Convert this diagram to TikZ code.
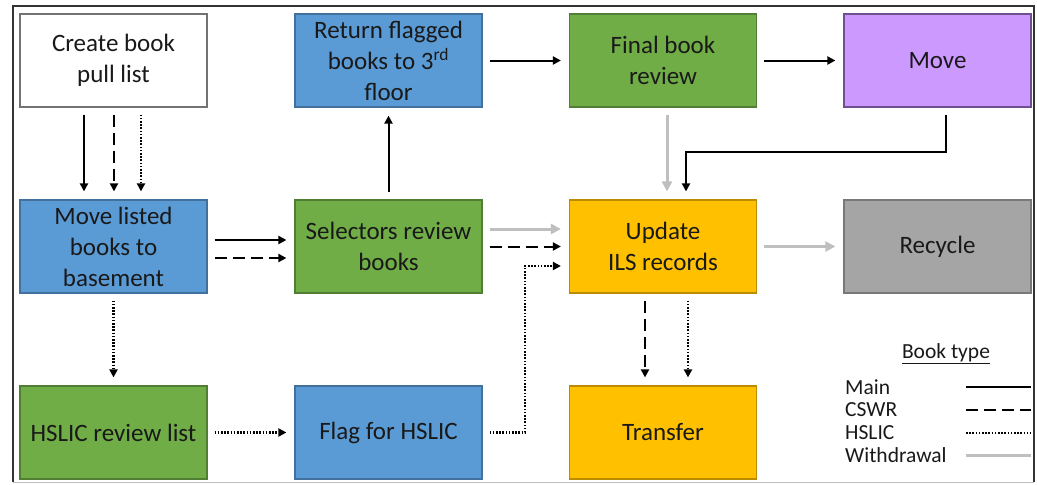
\documentclass[tikz,border=0pt]{standalone}
\usepackage{fontspec}
\setmainfont{Carlito}
\usetikzlibrary{arrows.meta}

\definecolor{boxblue}{HTML}{5B9BD5}
\definecolor{boxblueline}{HTML}{41719C}
\definecolor{boxgreen}{HTML}{70AD47}
\definecolor{boxgreenline}{HTML}{507E32}
\definecolor{boxorange}{HTML}{FFC000}
\definecolor{boxorangeline}{HTML}{BC8C00}
\definecolor{boxpurple}{HTML}{CC99FF}
\definecolor{boxpurpleline}{HTML}{6E4F8F}
\definecolor{boxgray}{HTML}{A5A5A5}
\definecolor{boxgrayline}{HTML}{787878}
\definecolor{wdgray}{HTML}{BFBFBF}

\begin{document}
\begin{tikzpicture}[
  x=1pt, y=-1pt,
  stage/.style={draw, line width=1.2pt, minimum width=187pt, minimum height=93pt, align=center, inner sep=2pt, text=black!90, font=\fontsize{25}{31}\selectfont},
  legtext/.style={text=black!90, inner sep=0pt, font=\fontsize{21.5}{24}\selectfont},
  arr/.style={-{Triangle[length=8pt,width=8pt]}, shorten <=7pt, shorten >=8pt},
  main/.style={line width=2pt, black},
  cswr/.style={line width=2pt, black, dash pattern=on 12pt off 6pt},
  hslic/.style={line width=2.4pt, black, dash pattern=on 1.6pt off 1.6pt},
  wd/.style={line width=3pt, wdgray}
]
  \useasboundingbox (0,0) rectangle (1037,485);
  \draw[black!80, line width=1.2pt] (13,482) -- (13,6) -- (1034,6) -- (1034,482);
  \draw[black!25, line width=1pt] (13,482) -- (1034,482);

  % top row
  \node[stage, draw=black!55, fill=white] (create) at (113.5,60.5) {Create book\\pull list};
  \node[stage, draw=boxblueline, fill=boxblue] (return) at (388.5,60.5) {Return flagged\\books to 3\textsuperscript{rd}\\floor};
  \node[stage, draw=boxgreenline, fill=boxgreen] (final) at (663,60.5) {Final book\\review};
  \node[stage, draw=boxpurpleline, fill=boxpurple] (move) at (937.5,60.5) {Move};
  % middle row
  \node[stage, draw=boxblueline, fill=boxblue] (listed) at (113.5,246.5) {Move listed\\books to\\basement};
  \node[stage, draw=boxgreenline, fill=boxgreen] (selectors) at (388.5,246.5) {Selectors review\\books};
  \node[stage, draw=boxorangeline, fill=boxorange] (update) at (663,246.5) {Update\\ILS records};
  \node[stage, draw=boxgrayline, fill=boxgray] (recycle) at (937.5,246.5) {Recycle};
  % bottom row
  \node[stage, draw=boxgreenline, fill=boxgreen] (hrev) at (113.5,432.5) {HSLIC review list};
  \node[stage, draw=boxblueline, fill=boxblue] (flag) at (388.5,432.5) {Flag for HSLIC};
  \node[stage, draw=boxorangeline, fill=boxorange] (transfer) at (663,432.5) {Transfer};

  \coordinate (hk) at ([xshift=-44pt,yshift=-19.5pt]update.west);
  \coordinate (mk) at ([xshift=23pt,yshift=47pt]update.north);

  \draw[arr, main] ([xshift=-29.5pt]create.south) -- ([xshift=-29.5pt]listed.north);
  \draw[arr, cswr] ([xshift=0.5pt]create.south) -- ([xshift=0.5pt]listed.north);
  \draw[arr, hslic] ([xshift=27.5pt]create.south) -- ([xshift=27.5pt]listed.north);
  \draw[arr, main] ([yshift=6.5pt]listed.east) -- ([yshift=6.5pt]selectors.west);
  \draw[arr, cswr] ([yshift=-11.5pt]listed.east) -- ([yshift=-11.5pt]selectors.west);
  \draw[arr, hslic] (listed.south) -- (hrev.north);
  \draw[arr, hslic] (hrev) -- (flag);
  \draw[arr, hslic] (flag.east) -| (hk) -- (hk -| update.west);
  \draw[arr, wd, -{Triangle[length=10pt,width=10pt]}] ([yshift=17.5pt]selectors.east) -- ([yshift=17.5pt]update.west);
  \draw[arr, cswr] (selectors) -- (update);
  \draw[arr, main] (selectors) -- (return);
  \draw[arr, main] (return) -- (final);
  \draw[arr, main] (final) -- (move);
  \draw[arr, wd, -{Triangle[length=10pt,width=10pt]}] ([xshift=4pt]final.south) -- ([xshift=4pt]update.north);
  \draw[arr, main] ([xshift=8.5pt]move.south) |- (mk) -- (mk |- update.north);
  \draw[arr, wd, -{Triangle[length=10pt,width=10pt]}] (update) -- (recycle);
  \draw[arr, cswr] ([xshift=-18pt]update.south) -- ([xshift=-18pt]transfer.north);
  \draw[arr, hslic] ([xshift=25pt]update.south) -- ([xshift=25pt]transfer.north);

  % legend
  \node[legtext] (legtitle) at (946,354) {\underline{Book type}};
  \foreach \lbl/\sty/\yy in {Main/main/387, CSWR/cswr/410, HSLIC/hslic/433, Withdrawal/wd/455} {
    \node[legtext, anchor=west] (leg\lbl) at (845,\yy) {\lbl};
    \draw[\sty] (966,\yy) -- (1031,\yy);
  }
\end{tikzpicture}
\end{document}
